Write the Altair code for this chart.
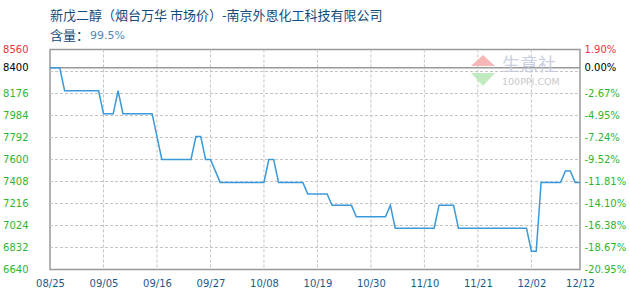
import altair as alt
import pandas as pd

# ---- data ----
dates = ["2023-08-25", "2023-08-27", "2023-08-28", "2023-09-04", "2023-09-05",
         "2023-09-07", "2023-09-08", "2023-09-09", "2023-09-15", "2023-09-17",
         "2023-09-23", "2023-09-24", "2023-09-25", "2023-09-26", "2023-09-27",
         "2023-09-29", "2023-10-08", "2023-10-09", "2023-10-10", "2023-10-11",
         "2023-10-16", "2023-10-17", "2023-10-21", "2023-10-22", "2023-10-26",
         "2023-10-27", "2023-11-02", "2023-11-03", "2023-11-04", "2023-11-12",
         "2023-11-13", "2023-11-16", "2023-11-17", "2023-12-01", "2023-12-02",
         "2023-12-03", "2023-12-04", "2023-12-08", "2023-12-09", "2023-12-10",
         "2023-12-11", "2023-12-12"]
prices = [8400, 8400, 8200, 8200, 8000,
          8000, 8200, 8000, 8000, 7600,
          7600, 7800, 7800, 7600, 7600,
          7400, 7400, 7600, 7600, 7400,
          7400, 7300, 7300, 7200, 7200,
          7100, 7100, 7200, 7000, 7000,
          7200, 7200, 7000, 7000, 6800,
          6800, 7400, 7400, 7500, 7500,
          7400, 7400]

label_dates = ["2023-08-25", "2023-09-05", "2023-09-16", "2023-09-27", "2023-10-08",
               "2023-10-19", "2023-10-30", "2023-11-10", "2023-11-21", "2023-12-02",
               "2023-12-12"]
tick_values = [6640, 6832, 7024, 7216, 7408, 7600, 7792, 7984, 8176, 8400, 8560]
grid_values = [6832, 7024, 7216, 7408, 7600, 7792, 7984, 8176, 8368]
base_price = 8400
y_domain = [6640, 8560]

title_text = "新戊二醇（烟台万华 市场价）-南京外恩化工科技有限公司"
sub_label = "含量："
sub_value = "99.5%"
wm_main = "生意社"
wm_sub = "100PPI.COM"

W, H = 530, 220

# ---- helpers ----
def dt(s):
    y, m, d = (int(p) for p in s.split("-"))
    return alt.DateTime(year=y, month=m, date=d, utc=True)

df = pd.DataFrame({"date": dates, "price": prices})
df_hgrid = pd.DataFrame({"g": grid_values})
df_vgrid = pd.DataFrame({"d": label_dates[1:-1]})
df_base = pd.DataFrame({"b": [base_price]})

xscale = alt.Scale(type="utc", domain=[dt(label_dates[0]), dt(label_dates[-1])], nice=False)
yscale = alt.Scale(domain=y_domain, nice=False, zero=False)

label_color = {
    "condition": [
        {"test": "datum.value == 8560", "value": "#ee3535"},
        {"test": "datum.value == 8400", "value": "#000000"},
    ],
    "value": "#2fb52f",
}
AX_FONT = "DejaVu Sans"
GRID = "#c4c4c4"

x_axis = alt.Axis(values=[dt(s) for s in label_dates], format="%m/%d", title=None,
                  grid=False, ticks=False, domain=False, labelPadding=9,
                  labelFont=AX_FONT, labelFontSize=10, labelColor="#1a5a8c",
                  labelFlush=False, labelOverlap=False)

hgrid = alt.Chart(df_hgrid).mark_rule(color=GRID, strokeDash=[3, 2], strokeWidth=1).encode(
    y=alt.Y("g:Q", scale=yscale, axis=None),
    x=alt.value(0), x2=alt.value(W),
)
vgrid = alt.Chart(df_vgrid).mark_rule(color=GRID, strokeDash=[3, 2], strokeWidth=1).encode(
    x=alt.X("d:T", scale=xscale, axis=x_axis),
    y=alt.value(0), y2=alt.value(H),
)
base = alt.Chart(df_base).mark_rule(color="#999999", strokeWidth=1.5).encode(
    y=alt.Y("b:Q", scale=yscale,
            axis=alt.Axis(orient="right", values=tick_values, title=None, grid=False,
                          ticks=False, domain=False, labelPadding=4, labelFont=AX_FONT,
                          labelFontSize=10, labelColor=label_color, labelFlush=False,
                          labelOverlap=False,
                          labelExpr="((datum.value - 8400) < 0 ? '-' : '') + format(abs(datum.value - 8400) / 8400 * 100, '.2f') + '%'")),
    x=alt.value(0), x2=alt.value(W),
)
line = alt.Chart(df).mark_line(color="#3a9ad9", strokeWidth=1.5).encode(
    x=alt.X("date:T", scale=xscale, axis=x_axis),
    y=alt.Y("price:Q", scale=yscale,
            axis=alt.Axis(orient="left", values=tick_values, title=None, grid=False,
                          ticks=False, domain=False, labelPadding=22, labelFont=AX_FONT,
                          labelFontSize=10, labelColor=label_color, labelFlush=False,
                          labelOverlap=False, format="d")),
)

# ---- titles ----
t1 = alt.Chart(pd.DataFrame({"t": [title_text]})).mark_text(
    align="left", baseline="middle", font="Noto Sans CJK SC", fontSize=13, color="#124a78"
).encode(x=alt.value(0), y=alt.value(-34), text="t:N")
t2 = alt.Chart(pd.DataFrame({"t": [sub_label]})).mark_text(
    align="left", baseline="middle", font="Noto Sans CJK SC", fontSize=13, color="#124a78"
).encode(x=alt.value(0), y=alt.value(-14), text="t:N")
t3 = alt.Chart(pd.DataFrame({"t": [sub_value]})).mark_text(
    align="left", baseline="middle", font=AX_FONT, fontSize=11, color="#4f86b5"
).encode(x=alt.value(40), y=alt.value(-14), text="t:N")

# ---- watermark ----
wm1 = alt.Chart(pd.DataFrame({"t": [wm_main]})).mark_text(
    align="left", baseline="middle", font="Noto Sans CJK SC", fontSize=18, color="#c5cbe0", opacity=0.9
).encode(x=alt.value(452), y=alt.value(16), text="t:N")
wm2 = alt.Chart(pd.DataFrame({"t": [wm_sub]})).mark_text(
    align="left", baseline="middle", font=AX_FONT, fontSize=9.5, color="#c8c8c8"
).encode(x=alt.value(452), y=alt.value(32), text="t:N")
tri_up = alt.Chart(pd.DataFrame({"k": [1]})).mark_point(
    shape="M-1,0.45L1,0.45L0,-0.45Z", filled=True, color="#f4aaaa", opacity=0.85, size=576
).encode(x=alt.value(433), y=alt.value(11))
tri_dn = alt.Chart(pd.DataFrame({"k": [1]})).mark_point(
    shape="M-1,-0.55L1,-0.55L0,0.55Z", filled=True, color="#b5e6b5", opacity=0.85, size=576
).encode(x=alt.value(433), y=alt.value(30))

chart = alt.layer(
    hgrid, vgrid, base, line, t1, t2, t3, tri_up, tri_dn, wm1, wm2
).resolve_axis(y="independent").properties(
    width=W, height=H,
    padding={"left": 50, "top": 49.5, "right": 50, "bottom": 30.5},
    autosize=alt.AutoSizeParams(type="none"),
).configure_view(stroke="#999999", strokeWidth=1.5)

chart.save("out.html", embed_options={"renderer": "svg", "actions": False})
